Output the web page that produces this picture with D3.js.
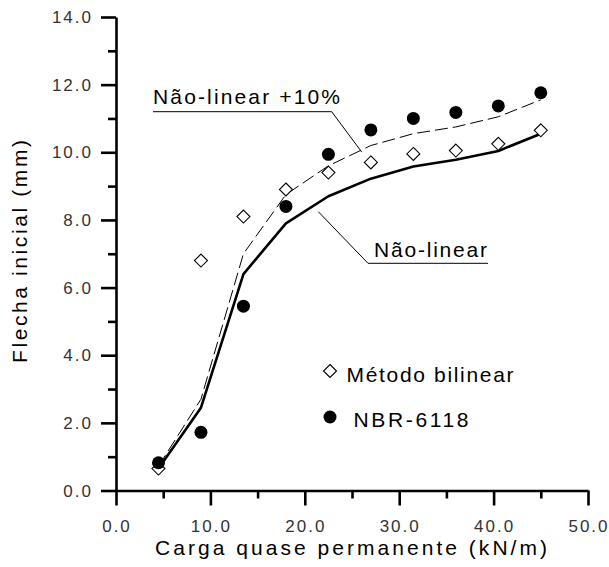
<!DOCTYPE html>
<html>
<head>
<meta charset="utf-8">
<script src="https://cdn.jsdelivr.net/npm/d3@7"></script>
<style>
  html, body { margin: 0; padding: 0; background: #fff; }
  svg { display: block; font-family: "Liberation Sans", Arial, sans-serif; }
</style>
</head>
<body>
<svg id="chart" width="609" height="567"></svg>
<script>
// ---- data ----
const loads = [4.5, 9, 13.5, 18, 22.5, 27, 31.5, 36, 40.5, 45];
const bilinear = [0.65, 6.8, 8.1, 8.9, 9.4, 9.7, 9.95, 10.05, 10.25, 10.65];
const nbr6118 = [0.82, 1.72, 5.45, 8.4, 9.94, 10.66, 11.0, 11.18, 11.37, 11.76];
const naoLinear = [0.65, 2.45, 6.4, 7.9, 8.7, 9.22, 9.58, 9.78, 10.04, 10.55];
const naoLinear10 = [0.72, 2.7, 7.0, 8.75, 9.6, 10.2, 10.55, 10.75, 11.05, 11.55];
const xMajorTicks = [0, 10, 20, 30, 40, 50];
const xMinorTicks = [5, 15, 25, 35, 45];
const yMajorTicks = [0, 2, 4, 6, 8, 10, 12, 14];
const yMinorTicks = [1, 3, 5, 7, 9, 11, 13];
const xTitle = "Carga quase permanente (kN/m)";
const yTitle = "Flecha inicial (mm)";
const legendLabels = ["Método bilinear", "NBR-6118"];
const curveLabels = ["Não-linear +10%", "Não-linear"];

// ---- layout ----
const svg = d3.select("#chart");
const x = d3.scaleLinear().domain([0, 50]).range([116, 588]);
const y = d3.scaleLinear().domain([0, 14]).range([490.5, 17]);
const fmt = d3.format(".1f");

// axes
const axisStroke = 2.6;
function styleAxis(g) {
  g.selectAll("path.domain").attr("stroke", "#000").attr("stroke-width", axisStroke);
  g.selectAll(".tick line").attr("stroke", "#000").attr("stroke-width", axisStroke);
}

const gx = svg.append("g").attr("transform", `translate(0,${y(0)})`)
  .call(d3.axisBottom(x).tickValues(xMajorTicks).tickSize(15).tickSizeOuter(0).tickFormat(""));
styleAxis(gx);
const gxm = svg.append("g").attr("transform", `translate(0,${y(0)})`)
  .call(d3.axisBottom(x).tickValues(xMinorTicks).tickSize(8).tickSizeOuter(0).tickFormat(""));
styleAxis(gxm);
gxm.select("path.domain").remove();

const gy = svg.append("g").attr("transform", `translate(${x(0)},0)`)
  .call(d3.axisLeft(y).tickValues(yMajorTicks).tickSize(15).tickSizeOuter(0).tickFormat(""));
styleAxis(gy);
const gym = svg.append("g").attr("transform", `translate(${x(0)},0)`)
  .call(d3.axisLeft(y).tickValues(yMinorTicks).tickSize(8).tickSizeOuter(0).tickFormat(""));
styleAxis(gym);
gym.select("path.domain").remove();

// tick labels
svg.append("g").selectAll("text").data(xMajorTicks).join("text")
  .attr("x", d => x(d) + 1).attr("y", 532)
  .attr("text-anchor", "middle")
  .attr("font-size", 17).attr("letter-spacing", 2).attr("fill", "#333")
  .text(d => fmt(d));
svg.append("g").selectAll("text").data(yMajorTicks).join("text")
  .attr("x", 93).attr("y", d => y(d) + 6)
  .attr("text-anchor", "end")
  .attr("font-size", 17).attr("letter-spacing", 2).attr("fill", "#333")
  .text(d => fmt(d));

// axis titles
svg.append("text").attr("x", 155).attr("y", 555)
  .attr("font-size", 21).attr("fill", "#000")
  .attr("textLength", 392).attr("lengthAdjust", "spacing")
  .text(xTitle);
svg.append("text")
  .attr("transform", "translate(27,363) rotate(-90)")
  .attr("x", 0).attr("y", 0)
  .attr("font-size", 21).attr("fill", "#000")
  .attr("textLength", 223).attr("lengthAdjust", "spacing")
  .text(yTitle);

// lines
const pts = arr => loads.map((l, i) => [x(l), y(arr[i])]);
const line = d3.line();
svg.append("path").attr("d", line(pts(naoLinear10)))
  .attr("fill", "none").attr("stroke", "#000").attr("stroke-width", 1)
  .attr("stroke-dasharray", "13,5");
svg.append("path").attr("d", line(pts(naoLinear)))
  .attr("fill", "none").attr("stroke", "#000").attr("stroke-width", 2.6)
  .attr("stroke-linejoin", "round");

// markers
const diamond = (cx, cy, r) => `M${cx},${cy - r}L${cx + r},${cy}L${cx},${cy + r}L${cx - r},${cy}Z`;
svg.append("g").selectAll("path").data(pts(bilinear)).join("path")
  .attr("d", d => diamond(d[0], d[1], 6.5))
  .attr("fill", "#fff").attr("stroke", "#000").attr("stroke-width", 1.1);
svg.append("g").selectAll("circle").data(pts(nbr6118)).join("circle")
  .attr("cx", d => d[0]).attr("cy", d => d[1]).attr("r", 6.5)
  .attr("fill", "#000");

// curve labels with leaders
svg.append("text").attr("x", 153).attr("y", 104)
  .attr("font-size", 21).attr("fill", "#000")
  .attr("textLength", 187).attr("lengthAdjust", "spacing")
  .text(curveLabels[0]);
svg.append("path").attr("d", "M153,111.7H331.7L361.7,152")
  .attr("fill", "none").attr("stroke", "#000").attr("stroke-width", 1);
svg.append("text").attr("x", 374).attr("y", 257)
  .attr("font-size", 21).attr("fill", "#000")
  .attr("textLength", 113).attr("lengthAdjust", "spacing")
  .text(curveLabels[1]);
svg.append("path").attr("d", "M488,263.3H368L318.3,211.7")
  .attr("fill", "none").attr("stroke", "#000").attr("stroke-width", 1);

// legend
svg.append("path").attr("d", diamond(330, 371, 6.5))
  .attr("fill", "#fff").attr("stroke", "#000").attr("stroke-width", 1.1);
svg.append("text").attr("x", 346.5).attr("y", 382)
  .attr("font-size", 21).attr("fill", "#000")
  .attr("textLength", 167).attr("lengthAdjust", "spacing")
  .text(legendLabels[0]);
svg.append("circle").attr("cx", 330).attr("cy", 417).attr("r", 6.5).attr("fill", "#000");
svg.append("text").attr("x", 353.5).attr("y", 427)
  .attr("font-size", 21).attr("fill", "#000")
  .attr("textLength", 115).attr("lengthAdjust", "spacing")
  .text(legendLabels[1]);
</script>
</body>
</html>
